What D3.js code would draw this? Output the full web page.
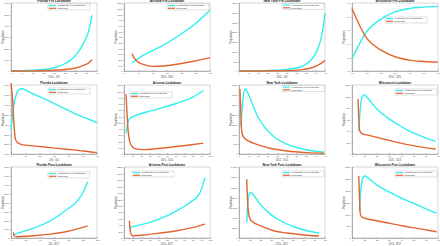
<!DOCTYPE html>
<html lang="en">
<head>
<meta charset="UTF-8" />
<title>State lockdown populations</title>
<script src="https://d3js.org/d3.v7.min.js"></script>
<style>
  body { margin: 0; background: #fff; font-family: "Liberation Sans", Arial, sans-serif; }
  svg { display: block; }
  .tick text { fill: #4d4d4d; }
  .line { fill: none; }
</style>
</head>
<body>
<svg width="440" height="246"></svg>
<script>
// series data: [day, population]
const flPreAsym  = [[0,10],[5,25],[10,60],[15,130],[20,290],[25,640],[28,1000],[31,1600],[34,2550],[36,3450],[37.7,4900]];
const flPreSym   = [[0,2],[10,12],[20,60],[25,130],[30,260],[34,520],[36,700],[37.7,985]];
const azPreAsym  = [[2.7,141],[6.7,276],[12.6,424],[18.4,600],[24.2,806],[30,1071]];
const azPreSym   = [[2.7,306],[4.4,176],[6.7,118],[10.2,82],[13.7,88],[18.4,118],[24.2,171],[30,235]];
const nyPreAsym  = [[0,0],[16.3,34],[25.1,86],[32.2,206],[36.6,463],[40.1,892],[42.7,1578],[44.1,2265],[45,2985]];
const nyPreSym   = [[0,0],[25.1,17],[33.9,86],[39.2,206],[42.7,377],[45,549]];
const wiPreAsym  = [[0,0.18],[1,0.57],[2,0.76],[3,0.87],[4,0.92],[5,0.94],[6,0.95]];
const wiPreSym   = [[0,0.92],[1,0.49],[2,0.31],[3,0.21],[4,0.16],[5,0.14],[6,0.13]];

const flLockAsym = [[0,3424],[1.6,5644],[4,7180],[5.8,7556],[7.5,7624],[11,7420],[15.6,7100],[22.6,6650],[29.6,6150],[36.7,5650],[43.7,5150],[53,4600],[60,4176]];
const flLockSym  = [[0,8205],[1.2,6327],[2.1,3937],[3,2571],[4.4,2161],[7.5,1956],[15.6,1820],[27.3,1649],[39,1478],[50.8,1307],[60,1137]];
const azLockAsym = [[2.3,334],[3.9,469],[5.4,539],[8.9,588],[14.7,620],[26.4,669],[41.9,728],[61.2,809],[80.6,911],[92.2,1008]];
const azLockSym  = [[2.3,954],[3.5,658],[4.7,388],[6.2,226],[8.9,129],[12.8,86],[22.5,70],[41.9,92],[61.2,119],[80.6,151],[92.2,173]];
const nyLockAsym = [[1.1,1407],[1.6,2265],[2.3,2951],[3.2,3294],[4,3208],[6.7,2608],[9.3,2007],[12.8,1441],[18.1,892],[25.1,498],[33.9,240],[44.5,86]];
const nyLockSym  = [[0.5,3294],[0.9,2265],[1.2,1407],[1.8,978],[3.2,772],[7.6,549],[16.3,292],[25.1,154],[35.7,69],[44.5,34]];
const wiLockAsym = [[5.5,406],[6.3,667],[7.1,870],[8.5,1003],[10.1,1026],[13.4,957],[20.2,783],[28.4,638],[36.6,522],[47.6,388],[58.5,290],[68.1,220]];
const wiLockSym  = [[4.9,957],[5.5,609],[6.3,406],[7.9,359],[14.8,319],[25.7,261],[36.6,203],[53,133],[68.1,87]];

const flPostAsym = [[3.3,369],[5.6,442],[12.6,627],[31.3,1106],[54.6,1917],[78,3207],[92,4129],[101.3,5235],[106.9,6341]];
const flPostSym  = [[3.3,627],[4.2,258],[7.9,147],[31.3,258],[54.6,442],[78,737],[106.9,1364]];
const azPostAsym = [[7,226],[8.1,329],[14.7,380],[30.2,483],[45.7,637],[61.2,843],[76.7,1100],[88.4,1408],[94.2,1871]];
const azPostSym  = [[6.2,535],[7,278],[8.5,103],[10.9,72],[22.5,93],[41.9,154],[61.2,226],[80.6,329],[94.2,432]];
const nyPostAsym = [[7.2,3075],[8.1,6673],[9.1,8308],[10.9,8963],[13.4,8505],[19.7,6673],[29.1,4710],[38.4,3402],[50.9,2224],[63.4,1439],[74.4,981]];
const nyPostSym  = [[7.2,11579],[7.8,7981],[8.8,5037],[10.3,3729],[13.4,3075],[19.7,2421],[32.2,1439],[44.7,981],[60.3,589],[74.4,393]];
const wiPostAsym = [[6,1150],[6.8,1850],[7.9,2341],[9.3,2579],[10.7,2621],[13.4,2523],[20.2,2243],[31.2,1921],[42.1,1640],[53,1402],[64,1150],[68.9,1051]];
const wiPostSym  = [[5.5,2621],[6,1850],[6.8,1009],[8.5,869],[20.2,729],[31.2,617],[42.1,505],[53,407],[64,308],[68.9,266]];

const titles = [
  "Florida Pre-Lockdown","Arizona Pre-Lockdown","New York Pre-Lockdown","Wisconsin Pre-Lockdown",
  "Florida Lockdown","Arizona Lockdown","New York Lockdown","Wisconsin Lockdown",
  "Florida Post-Lockdown","Arizona Post-Lockdown","New York Post-Lockdown","Wisconsin Post-Lockdown"
];
const xLabels = [
  "3/10 - 4/3","3/10 - 3/31","3/10 - 4/3","3/10 - 3/25",
  "4/3 - 5/4","3/31 - 5/15","3/22 - 5/15","3/25 - 5/13",
  "5/4 - 8/17","5/15 - 8/17","5/15 - 8/17","5/13 - 8/17"
];
const legendNames = ["Asymptomatic or Presymptomatic", "Symptomatic"];

const series = [
  [flPreAsym, flPreSym],[azPreAsym, azPreSym],[nyPreAsym, nyPreSym],[wiPreAsym, wiPreSym],
  [flLockAsym, flLockSym],[azLockAsym, azLockSym],[nyLockAsym, nyLockSym],[wiLockAsym, wiLockSym],
  [flPostAsym, flPostSym],[azPostAsym, azPostSym],[nyPostAsym, nyPostSym],[wiPostAsym, wiPostSym]
];
// axis domains and tick steps
const xDomains = [[0,40],[0,30],[0,45],[0,6],[0,60],[0,100],[0,45],[0,70],[0,120],[0,100],[0,80],[0,70]];
const xSteps   = [5,5,5,1,10,10,5,10,20,10,10,10];
const yDomains = [[0,6000],[0,1200],[0,3500],[0,1],[1000,8000],[0,1100],[0,3500],[0,1200],[0,8000],[0,2200],[0,14000],[0,3000]];
const ySteps   = [1000,100,500,0.2,1000,100,500,200,1000,200,2000,500];

// layout
const colL = [11, 124, 239, 352], plotW = 86;
const rowT = [3, 85, 167], rowH = [68, 69, 71];
// legend offsets inside each plot box
const legendPos = [[37,1],[43,1],[43,0.5],[33,14],[37,3],[6,7],[43,0.5],[43,4],[37,5],[8,4],[43,4],[43,4]];
const legW = 42, legH = 6;
const colors = ["#2ef0ee", "#e2652f"];

const svg = d3.select("svg");

series.forEach((s, i) => {
  const r = Math.floor(i / 4), c = i % 4;
  const left = colL[c], top = rowT[r], h = rowH[r];
  const g = svg.append("g").attr("transform", `translate(${left},${top})`);

  const x = d3.scaleLinear().domain(xDomains[i]).range([0, plotW]);
  const y = d3.scaleLinear().domain(yDomains[i]).range([h, 0]);
  const xt = d3.range(xDomains[i][0], xDomains[i][1] + xSteps[i] / 2, xSteps[i]);
  const yt = d3.range(yDomains[i][0], yDomains[i][1] + ySteps[i] / 2, ySteps[i]);

  g.append("rect").attr("width", plotW).attr("height", h)
    .attr("fill", "#fff").attr("stroke", "#b0b0b0").attr("stroke-width", 0.5);

  const xa = g.append("g").attr("transform", `translate(0,${h})`)
    .call(d3.axisBottom(x).tickValues(xt).tickSizeInner(-1.2).tickSizeOuter(0).tickPadding(1.5));
  const ya = g.append("g")
    .call(d3.axisLeft(y).tickValues(yt).tickSizeInner(-1.2).tickSizeOuter(0).tickPadding(1.5)
      .tickFormat(ySteps[i] < 1 ? d3.format(".1f") : d3.format("d")));
  [xa, ya].forEach(a => {
    a.select(".domain").attr("stroke", "#777").attr("stroke-width", 0.5);
    a.selectAll(".tick line").attr("stroke", "#777").attr("stroke-width", 0.4);
    a.selectAll(".tick text").attr("font-size", 2.4);
  });

  const line = d3.line().x(d => x(d[0])).y(d => y(d[1])).curve(d3.curveMonotoneX);
  s.forEach((d, k) => {
    g.append("path").attr("class", "line").attr("d", line(d))
      .attr("stroke", colors[k]).attr("stroke-width", 1.4);
  });

  g.append("text").attr("x", plotW / 2).attr("y", -0.6).attr("text-anchor", "middle")
    .attr("font-size", 3.2).attr("font-weight", "bold").attr("fill", "#222").text(titles[i]);
  g.append("text").attr("x", plotW / 2).attr("y", h + 6.5).attr("text-anchor", "middle")
    .attr("font-size", 2.6).attr("fill", "#444").text(xLabels[i]);
  g.append("text").attr("transform", `translate(${-7.5},${h / 2}) rotate(-90)`)
    .attr("text-anchor", "middle").attr("font-size", 2.8).attr("fill", "#444").text("Population");

  // legend
  const [lx, ly] = legendPos[i];
  const lg = g.append("g").attr("transform", `translate(${lx},${ly})`);
  lg.append("rect").attr("width", legW).attr("height", legH)
    .attr("fill", "#fff").attr("stroke", "#999").attr("stroke-width", 0.3);
  legendNames.forEach((n, k) => {
    lg.append("line").attr("x1", 1).attr("x2", 8).attr("y1", 1.6 + k * 2.7).attr("y2", 1.6 + k * 2.7)
      .attr("stroke", colors[k]).attr("stroke-width", 1.2);
    lg.append("text").attr("x", 9).attr("y", 2.3 + k * 2.7).attr("font-size", 1.9)
      .attr("fill", "#333").text(n);
  });
});
</script>
</body>
</html>
